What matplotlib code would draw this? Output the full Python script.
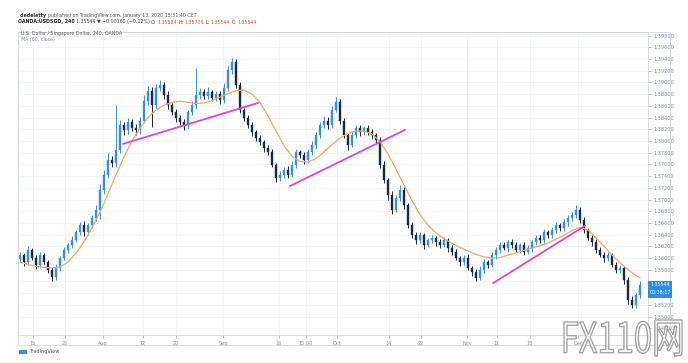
import matplotlib
matplotlib.use("Agg")
import matplotlib.pyplot as plt
import numpy as np
from matplotlib.patches import Rectangle, PathPatch
from matplotlib.textpath import TextPath
from matplotlib.font_manager import FontProperties
from matplotlib.transforms import Affine2D, IdentityTransform

# ---------------- data ----------------
first_open = 1.3598
closes = [1.3605,1.3593,1.3614,1.3600,1.3588,1.3605,1.3593,1.3580,1.3568,1.3583,
          1.3600,1.3614,1.3622,1.3631,1.3644,1.3656,1.3644,1.3656,1.3668,1.3682,
          1.3716,1.3742,1.3768,1.3762,1.3785,1.3827,1.3818,1.3832,1.3822,1.3818,
          1.3835,1.3869,1.3886,1.3861,1.3890,1.3896,1.3879,1.3861,1.3849,1.3839,
          1.3832,1.3827,1.3849,1.3861,1.3879,1.3884,1.3877,1.3884,1.3873,1.3880,
          1.3870,1.3890,1.3921,1.3935,1.3896,1.3853,1.3839,1.3827,1.3815,1.3805,
          1.3798,1.3788,1.3781,1.3759,1.3737,1.3742,1.3751,1.3742,1.3759,1.3781,
          1.3776,1.3767,1.3781,1.3793,1.3810,1.3827,1.3835,1.3827,1.3853,1.3866,
          1.3835,1.3810,1.3793,1.3810,1.3822,1.3815,1.3822,1.3815,1.3810,1.3801,
          1.3759,1.3733,1.3707,1.3682,1.3702,1.3716,1.3690,1.3656,1.3639,1.3630,
          1.3639,1.3622,1.3630,1.3634,1.3627,1.3622,1.3630,1.3617,1.3610,1.3600,
          1.3593,1.3600,1.3583,1.3576,1.3566,1.3580,1.3593,1.3588,1.3605,1.3614,
          1.3622,1.3617,1.3627,1.3622,1.3614,1.3622,1.3610,1.3617,1.3627,1.3634,
          1.3630,1.3644,1.3639,1.3648,1.3656,1.3651,1.3661,1.3668,1.3673,1.3682,
          1.3665,1.3648,1.3634,1.3627,1.3614,1.3605,1.3600,1.3605,1.3588,1.3580,
          1.3583,1.3562,1.3528,1.3519,1.3536,1.3554]
# wick lengths in pips (1e-4)
wick_up = [5,4,6,3,5,6,4,3,5,6, 4,5,3,6,4,5,7,4,5,8, 10,8,12,6,76,9,6,8,5,7,
           6,10,8,6,7,9,5,6,4,5, 6,5,4,7,46,6,5,8,4,6, 5,9,8,7,6,5,4,6,5,4,
           5,4,6,5,4,6,5,7,6,5, 4,6,5,7,6,5,8,6,7,9, 6,5,4,7,6,5,4,6,5,4,
           5,6,4,7,6,8,5,4,6,5, 6,4,5,6,4,5,6,4,5,6, 4,5,6,4,5,6,5,4,6,5,
           6,5,4,6,5,4,6,5,4,6, 5,6,4,5,6,4,5,6,5,8, 6,5,4,6,5,4,6,5,4,6,
           5,4,6,7,5,6]
wick_dn = [4,6,5,4,6,5,4,6,8,5, 5,4,6,5,4,5,6,4,5,4, 15,6,5,7,6,5,8,6,5,7,
           6,5,7,37,6,5,7,6,5,6, 5,8,6,5,6,7,5,6,5,4, 6,5,4,6,5,6,4,5,6,5,
           4,6,5,4,7,5,6,5,4,6, 5,6,4,5,6,5,4,6,5,4, 6,5,8,4,5,6,4,5,6,5,
           6,5,7,6,4,5,6,5,4,6, 5,6,4,5,6,5,4,6,5,4, 6,5,4,6,5,4,6,5,4,6,
           5,4,6,5,4,6,5,4,6,5, 4,6,5,4,6,5,4,6,5,4, 6,5,4,6,5,4,6,5,4,6,
           5,6,7,5,4,5]

ma_idx = list(range(0, 156, 2)) + [155]
ma_vals = [1.3593,1.3589,1.3586,1.3584,1.3583,1.3585,1.3593,1.3608,1.3628,1.3652,
           1.3678,1.3710,1.3742,1.3773,1.3800,1.3822,1.3840,1.3853,1.3861,1.3866,
           1.3868,1.3866,1.3864,1.3865,1.3869,1.3875,1.3881,1.3886,1.3887,1.3880,
           1.3866,1.3843,1.3817,1.3792,1.3774,1.3765,1.3764,1.3770,1.3781,1.3794,
           1.3805,1.3813,1.3817,1.3817,1.3812,1.3799,1.3778,1.3752,1.3725,1.3698,
           1.3674,1.3656,1.3643,1.3633,1.3625,1.3618,1.3612,1.3606,1.3602,1.3600,
           1.3601,1.3605,1.3609,1.3613,1.3617,1.3621,1.3626,1.3632,1.3639,1.3647,
           1.3652,1.3648,1.3634,1.3620,1.3605,1.3592,1.3580,1.3570,1.3566]

trend1_x = [25.75, 59.5];    trend1_y = [1.3795, 1.3865]
trend2_x = [67.5, 96.25];    trend2_y = [1.3723, 1.3819]
trend3_x = [118.25, 141.25]; trend3_y = [1.3557, 1.3655]

time_labels = ['15', '22', 'Aug', '12', '20', 'Sep', '16', '15:00', 'Oct',
               '14', '22', 'Nov', '11', '18', 'Dec']
time_pos = [3.25, 11.25, 20.75, 30.75, 39, 50.75, 64.75, 71.5, 79.25,
            92.25, 100.25, 111.75, 119.25, 127.5, 139.5]
price_ticks = [round(1.348 + 0.002 * i, 3) for i in range(26)]
last_price_label = '1.35544'
countdown_label = '00:28:17'

# ---------------- figure ----------------
W, H = 688, 363
fig = plt.figure(figsize=(W / 100, H / 100), dpi=100)
fig.patch.set_facecolor('white')

def fx(px):
    return px / W

def fy(py):
    return 1 - py / H

L, R, T, B = 18, 648, 32, 335
ax = fig.add_axes([fx(L), fy(B), (R - L) / W, (B - T) / H])
ax.set_facecolor('white')

n = len(closes)
x = np.arange(n)
opens = np.array([first_open] + closes[:-1])
cl = np.array(closes)
hi = np.maximum(opens, cl) + np.array(wick_up) * 1e-4
lo = np.minimum(opens, cl) - np.array(wick_dn) * 1e-4
up = cl >= opens
up_col = '#3a8fdc'
dn_col = '#1d2a3e'
cols = np.where(up, up_col, dn_col)

# grid
for p in price_ticks:
    ax.axhline(p, color='#f1f3f6', lw=0.6, zorder=0)
for t in time_pos:
    ax.axvline(t, color='#f1f3f6', lw=0.6, zorder=0)

ax.vlines(x, lo, hi, colors=cols, lw=0.7, zorder=2)
body_h = np.abs(cl - opens)
body_h = np.where(body_h < 0.00005, 0.00005, body_h)
ax.bar(x, body_h, bottom=np.minimum(opens, cl), width=0.7, color=cols,
       edgecolor=cols, lw=0.3, zorder=3)

ax.plot(ma_idx, ma_vals, color='#f3a862', lw=0.9, zorder=4)

mag = '#e046d2'
for tx, ty in [(trend1_x, trend1_y), (trend2_x, trend2_y), (trend3_x, trend3_y)]:
    ax.plot(tx, ty, color=mag, lw=1.3, zorder=5, solid_capstyle='round')

ax.set_xlim(-0.5, 157)
ax.set_ylim(1.34684, 1.39863)

ax.yaxis.tick_right()
ax.set_yticks(price_ticks)
ax.set_yticklabels([f'{p:.5f}' for p in price_ticks])
# labels hidden behind the last-price tag
for lbl, p in zip(ax.get_yticklabels(), price_ticks):
    if 1.3535 < p < 1.3565:
        lbl.set_visible(False)
ax.set_xticks(time_pos)
ax.set_xticklabels(time_labels)
ax.tick_params(axis='y', labelsize=3.6, colors='#8a8f98', length=2, width=0.4, pad=2)
ax.tick_params(axis='x', labelsize=3.6, colors='#8a8f98', length=2, width=0.4, pad=2.5)
for sp in ax.spines.values():
    sp.set_color('#d5d8de')
    sp.set_linewidth(0.6)

# outer frame (includes axes areas)
fig.add_artist(Rectangle((fx(18), fy(345)), (670 - 18) / W, (345 - 32) / H,
                         transform=fig.transFigure, fill=False,
                         ec='#d5d8de', lw=0.6))

# price tag
fig.add_artist(Rectangle((fx(648), fy(298)), 24 / W, 17 / H,
                         transform=fig.transFigure, fc='#2d8ee6', ec='none'))
fig.text(fx(660), fy(285), last_price_label, fontsize=3.4, color='white',
         ha='center', va='center')
fig.text(fx(660), fy(292.5), countdown_label, fontsize=3.4, color='white',
         ha='center', va='center')

# header texts
fig.canvas.draw()
renderer = fig.canvas.get_renderer()

def seq_text(x0, y0, pieces, size=3.4):
    xcur = x0
    for s, c, w in pieces:
        t = fig.text(fx(xcur), fy(y0), s, fontsize=size, color=c, weight=w,
                     ha='left', va='center')
        bb = t.get_window_extent(renderer=renderer)
        xcur += bb.width + 1.2

seq_text(20, 16, [('cledeletty', '#333333', 'bold'),
                  ('published on TradingView.com, January 13, 2020 15:31:40 CET', '#555555', 'normal')])
seq_text(18, 22, [('OANDA:USDSGD, 240', '#222222', 'bold'),
                  ('1.35544 \u25bc \u22120.00160 (\u22120.12%)', '#444444', 'normal'),
                  ('O:', '#444444', 'normal'), ('1.35584', '#e0503c', 'normal'),
                  ('H:', '#444444', 'normal'), ('1.35706', '#e0503c', 'normal'),
                  ('L:', '#444444', 'normal'), ('1.35544', '#e0503c', 'normal'),
                  ('C:', '#444444', 'normal'), ('1.35544', '#e0503c', 'normal')])
fig.text(fx(21), fy(34), 'U.S. Dollar / Singapore Dollar, 240, OANDA', fontsize=3.4,
         color='#666666', ha='left', va='center')
fig.text(fx(21), fy(39.5), 'MA (60, close)', fontsize=3.4,
         color='#888888', ha='left', va='center')

# TradingView logo text
fig.add_artist(Rectangle((fx(19), fy(354)), 8 / W, 4 / H,
                         transform=fig.transFigure, fc='#3d8fd8', ec='none'))
fig.text(fx(29), fy(352), 'TradingView', fontsize=3.6, color='#555555',
         ha='left', va='center')

# watermark
fp = FontProperties(family=['Noto Sans CJK SC'], weight='light')
tp = TextPath((0, 0), 'FX110\u7f51', size=30, prop=fp)
ext = tp.get_extents()
sx = 118 / ext.width
sy = 36 / ext.height
trans = Affine2D().translate(-ext.x0, -ext.y0).scale(sx, sy).translate(564, 363 - 356)
path = trans.transform_path(tp)
fig.add_artist(PathPatch(path, transform=IdentityTransform(), fc='white',
                         ec='#a0a0a0', lw=1.0, alpha=0.95, zorder=10))

fig.savefig('out.png', dpi=100, facecolor='white')
